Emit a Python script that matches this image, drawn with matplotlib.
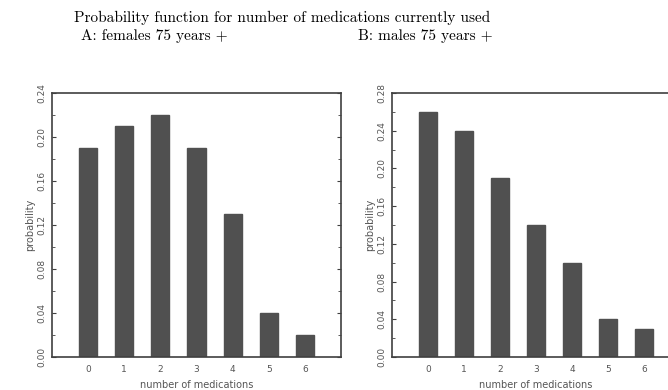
import matplotlib
matplotlib.use("Agg")
import matplotlib.pyplot as plt
from matplotlib.ticker import MultipleLocator

counts = [0, 1, 2, 3, 4, 5, 6]
females = [0.19, 0.21, 0.22, 0.19, 0.13, 0.04, 0.02]
males = [0.26, 0.24, 0.19, 0.14, 0.10, 0.04, 0.03]
title_main = "Probability function for number of medications currently used"
title_a = "A: females 75 years +"
title_b = "B: males 75 years +"
xlabel = "number of medications"
ylabel = "probability"

fig = plt.figure(figsize=(6.68, 3.9), dpi=100)
bar_color = "#505050"
spine_color = "#404040"
txt_color = "#555555"

def panel(rect, vals, ymax):
    ax = fig.add_axes(rect)
    ax.bar(counts, vals, width=0.5, color=bar_color, edgecolor=bar_color)
    ax.set_xlim(-1, 7)
    ax.set_ylim(0, ymax)
    ax.set_xticks(counts)
    ax.yaxis.set_major_locator(MultipleLocator(0.04))
    ax.yaxis.set_minor_locator(MultipleLocator(0.02))
    ax.yaxis.set_major_formatter(matplotlib.ticker.FormatStrFormatter("%.2f"))
    for s in ax.spines.values():
        s.set_color(spine_color)
        s.set_linewidth(1.2)
    ax.tick_params(axis="y", which="both", direction="in", right=True,
                   colors=spine_color, labelcolor=txt_color, labelsize=6.5, pad=4)
    ax.tick_params(axis="y", which="major", length=3)
    ax.tick_params(axis="y", which="minor", length=2)
    ax.tick_params(axis="x", length=0, labelcolor=txt_color, labelsize=6.5, pad=6)
    for lab in ax.get_yticklabels():
        lab.set_rotation(90)
        lab.set_va("center")
        lab.set_ha("right")
    ax.set_xlabel(xlabel, fontsize=7, color=txt_color, labelpad=4)
    ax.set_ylabel(ylabel, fontsize=7, color=txt_color, labelpad=2)
    return ax

panel([52/668, 1-357/390, 289/668, 264/390], females, 0.24)
panel([392/668, 1-357/390, 288/668, 264/390], males, 0.28)

fig.text(282/668, 1-18/390, title_main, family="cmr10", fontsize=11,
         ha="center", va="center", color="#000000")
fig.text(81/668, 1-36/390, title_a, family="cmr10", fontsize=11,
         ha="left", va="center", color="#000000")
fig.text(493/668, 1-36/390, title_b, family="cmr10", fontsize=11,
         ha="right", va="center", color="#000000")

fig.savefig("out.png", dpi=100)
